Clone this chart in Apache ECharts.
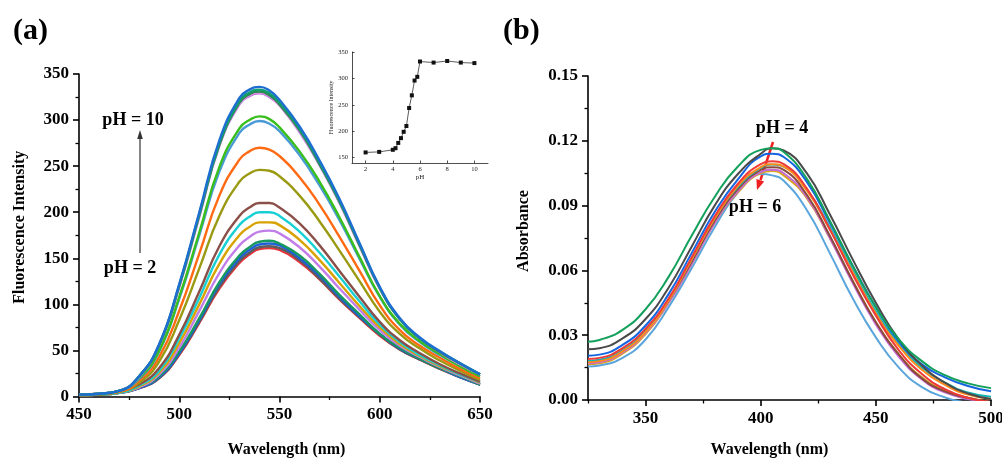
<!DOCTYPE html>
<html>
<head>
<meta charset="utf-8">
<title>pH dependent fluorescence and absorbance</title>
<script src="https://cdn.jsdelivr.net/npm/echarts@6.0.0/dist/echarts.min.js"></script>
<style>
    html, body { margin: 0; padding: 0; background: #fff; }
    #chart { width: 1002px; height: 459px; }
</style>
</head>
<body>
<div id="chart"></div>
<script>
/**
 * (a) fluorescence spectra pH 2 -> 10, with inset of peak intensity vs pH
 * (b) absorbance spectra pH 4 -> 6
 */

// ---- (a) emission spectra, wavelength (nm) ----
var emWave = [450, 460, 470, 480, 490, 500, 510, 520, 530, 535, 540, 545, 550, 560, 570, 580, 590, 600, 610, 620, 630, 640, 650];

var em161 = [1, 2, 4, 9, 20, 45, 80, 117, 145, 154, 160, 161, 159, 146, 127, 105, 85, 66, 51, 40, 30, 21, 13];
var em162 = [1, 2, 4, 9, 20, 46, 81, 119, 147, 156, 162, 163, 161, 148, 128, 106, 86, 67, 51, 40, 30, 21, 13];
var em165 = [1, 2, 4, 9, 21, 47, 83, 122, 150, 159, 165, 166, 164, 150, 131, 108, 87, 68, 52, 41, 31, 21, 13];
var em168 = [1, 2, 4, 10, 22, 49, 85, 124, 153, 162, 168, 169, 166, 153, 133, 110, 89, 68, 53, 41, 31, 22, 13];
var em179 = [1, 2, 4, 10, 24, 53, 93, 134, 164, 173, 179, 180, 177, 162, 141, 117, 94, 72, 55, 43, 32, 23, 14];
var em189 = [1, 2, 4, 11, 26, 58, 100, 144, 175, 184, 189, 189, 186, 170, 148, 123, 98, 75, 57, 44, 33, 24, 15];
var em200 = [1, 2, 4, 12, 28, 63, 107, 154, 186, 195, 200, 200, 196, 179, 156, 130, 103, 78, 59, 45, 34, 24, 16];
var em210 = [1, 2, 5, 13, 31, 67, 114, 163, 196, 205, 210, 210, 205, 188, 164, 136, 108, 81, 61, 47, 35, 25, 16];
var em246 = [1.5, 2.5, 5, 15, 38, 83, 139, 196, 233, 242, 246, 245, 239, 218, 190, 158, 125, 92, 68, 52, 39, 28, 18];
var em270 = [2, 3, 5, 17, 43, 93, 155, 218, 257, 266, 270, 268, 261, 238, 208, 173, 136, 99, 72, 55, 42, 30, 20];
var em299 = [2, 3, 6, 19, 49, 106, 175, 244, 286, 295, 299, 296, 288, 262, 229, 191, 149, 108, 78, 59, 45, 33, 22];
var em304 = [2, 3, 6, 20, 50, 108, 178, 249, 291, 300, 304, 301, 292, 266, 233, 194, 151, 109, 79, 60, 46, 33, 22];
var em329 = [2, 3, 6, 21, 56, 119, 195, 272, 317, 326, 329, 325, 316, 287, 251, 210, 163, 117, 84, 63, 48, 35, 24];
var em330 = [2, 3, 6, 22, 56, 119, 196, 273, 318, 327, 330, 326, 316, 288, 252, 210, 163, 117, 84, 63, 48, 35, 24];
var em331 = [2, 3, 6, 22, 56, 120, 197, 273, 319, 328, 331, 327, 317, 289, 252, 211, 164, 118, 84, 63, 48, 36, 24];
var em333 = [2, 3, 6, 22, 56, 121, 198, 275, 321, 330, 333, 329, 319, 291, 254, 212, 165, 118, 84, 63, 49, 36, 24];
var em336 = [2, 3, 6, 22, 57, 122, 200, 278, 324, 333, 336, 332, 322, 293, 256, 214, 166, 119, 85, 64, 49, 36, 24];

// ---- inset: intensity at peak vs pH ----
var insetPH = [2, 3, 4, 4.2, 4.4, 4.6, 4.8, 5, 5.2, 5.4, 5.6, 5.8, 6, 7, 8, 9, 10];
var insetFI = [160, 161, 165, 168, 178, 187, 199, 210, 244, 268, 296, 303, 332, 330, 333, 330, 329];

// ---- (b) absorbance spectra ----
var absWave = [325, 330, 340, 350, 360, 370, 380, 390, 400, 405, 410, 420, 430, 440, 450, 460, 470, 480, 490, 500];

var abLightBlue = [0.0155, 0.016, 0.0195, 0.028, 0.043, 0.061, 0.080, 0.096, 0.1046, 0.1040, 0.1015, 0.088, 0.068, 0.047, 0.029, 0.015, 0.006, 0.0012, -0.0015, -0.004];
var abGold = [0.0165, 0.017, 0.0215, 0.0305, 0.045, 0.063, 0.082, 0.096, 0.1050, 0.1060, 0.1040, 0.0935, 0.075, 0.055, 0.036, 0.021, 0.0105, 0.0045, 0.001, -0.001];
var abPurple = [0.017, 0.0175, 0.022, 0.031, 0.045, 0.063, 0.082, 0.0965, 0.1055, 0.1066, 0.1050, 0.094, 0.075, 0.054, 0.035, 0.020, 0.0095, 0.0035, 0.0005, -0.001];
var abBrown = [0.018, 0.0185, 0.023, 0.032, 0.046, 0.064, 0.083, 0.0975, 0.1065, 0.1078, 0.1065, 0.095, 0.076, 0.055, 0.036, 0.021, 0.010, 0.004, 0.001, -0.001];
var abCyan = [0.018, 0.0185, 0.023, 0.032, 0.046, 0.065, 0.084, 0.0985, 0.1075, 0.1090, 0.1080, 0.0975, 0.080, 0.060, 0.041, 0.026, 0.015, 0.008, 0.0035, 0.0015];
var abOrange = [0.0175, 0.018, 0.0225, 0.0315, 0.046, 0.065, 0.084, 0.099, 0.1078, 0.1092, 0.1080, 0.097, 0.079, 0.059, 0.040, 0.025, 0.014, 0.007, 0.0025, 0.0005];
var abRed = [0.019, 0.0195, 0.024, 0.033, 0.047, 0.066, 0.085, 0.100, 0.1092, 0.1105, 0.1092, 0.098, 0.079, 0.058, 0.039, 0.023, 0.012, 0.005, 0.001, -0.001];
var abBlue = [0.0205, 0.021, 0.0255, 0.0345, 0.049, 0.068, 0.087, 0.102, 0.1128, 0.1140, 0.1125, 0.101, 0.082, 0.062, 0.043, 0.027, 0.0165, 0.0105, 0.0065, 0.004];
var abGray = [0.0235, 0.024, 0.0285, 0.0375, 0.052, 0.071, 0.090, 0.1045, 0.1140, 0.1165, 0.1155, 0.105, 0.086, 0.065, 0.045, 0.028, 0.016, 0.008, 0.003, 0.0005];
var abGreen = [0.027, 0.0278, 0.0325, 0.042, 0.057, 0.076, 0.094, 0.108, 0.1158, 0.1165, 0.1148, 0.1025, 0.083, 0.062, 0.043, 0.028, 0.018, 0.0115, 0.0077, 0.0055];

// tick labels
var insetXTicks = [2, 4, 6, 8, 10];
var insetYTicks = [150, 200, 250, 300, 350];
var absXTicks = [350, 400, 450, 500];
var absXMinor = [325, 375, 425, 475];

var emCurves = [
    { data: em161, color: '#e8343c' },
    { data: em162, color: '#5c5c5c' },
    { data: em165, color: '#1f5fd8' },
    { data: em168, color: '#17985e' },
    { data: em179, color: '#c27ee8' },
    { data: em189, color: '#d8a300' },
    { data: em200, color: '#16d0d4' },
    { data: em210, color: '#8a4f48' },
    { data: em246, color: '#9a9a12' },
    { data: em270, color: '#ff6a12' },
    { data: em299, color: '#4a9ad6' },
    { data: em304, color: '#38bf1c' },
    { data: em329, color: '#b878e2' },
    { data: em330, color: '#e08ade' },
    { data: em331, color: '#2a8a52' },
    { data: em333, color: '#10a070' },
    { data: em336, color: '#1e6ed2' }
];

var absCurves = [
    { data: abLightBlue, color: '#5aa5dc' },
    { data: abGold, color: '#daa41c' },
    { data: abPurple, color: '#c46ad6' },
    { data: abBrown, color: '#8a4a3c' },
    { data: abCyan, color: '#12b6b6' },
    { data: abOrange, color: '#ff8a1a' },
    { data: abRed, color: '#f03a3a' },
    { data: abBlue, color: '#1565e0' },
    { data: abGray, color: '#4a4a4a' },
    { data: abGreen, color: '#12a05a' }
];

var SERIF = "'Liberation Serif', 'Times New Roman', serif";

function pairs(xs, ys) {
    return xs.map(function(x, i) { return [x, ys[i]]; });
}

function mainAxisStyle() {
    return {
        axisLine: { show: true, lineStyle: { color: '#000', width: 1.6 } },
        axisTick: { show: true, inside: false, length: 6, lineStyle: { color: '#000', width: 1.6 } },
        axisLabel: { color: '#000', fontFamily: SERIF, fontWeight: 'bold', fontSize: 17, margin: 10 },
        splitLine: { show: false },
        nameTextStyle: { color: '#000', fontFamily: SERIF, fontWeight: 'bold', fontSize: 16 }
    };
}

function extend(base, extra) {
    for (var k in extra) {
        if (base[k] && typeof base[k] === 'object' && !Array.isArray(base[k])) {
            extend(base[k], extra[k]);
        } else {
            base[k] = extra[k];
        }
    }
    return base;
}

var series = [];

emCurves.forEach(function(c) {
    series.push({
        type: 'line',
        xAxisIndex: 0,
        yAxisIndex: 0,
        data: pairs(emWave, c.data),
        smooth: 0.5,
        showSymbol: false,
        silent: true,
        lineStyle: { color: c.color, width: 2.4 }
    });
});

series.push({
    type: 'line',
    xAxisIndex: 1,
    yAxisIndex: 1,
    data: pairs(insetPH, insetFI),
    symbol: 'rect',
    symbolSize: 4,
    silent: true,
    itemStyle: { color: '#111' },
    lineStyle: { color: '#333', width: 0.8 }
});

absCurves.forEach(function(c) {
    series.push({
        type: 'line',
        xAxisIndex: 2,
        yAxisIndex: 2,
        data: pairs(absWave, c.data),
        smooth: 0.5,
        showSymbol: false,
        silent: true,
        lineStyle: { color: c.color, width: 2 }
    });
});

var labelFont = 'bold 18px ' + SERIF;

var option = {
    backgroundColor: '#fff',
    animation: false,
    grid: [
        { left: 79, top: 74, width: 401, height: 322.5, outerBoundsMode: 'none' },
        { left: 352, top: 52, width: 136, height: 111, outerBoundsMode: 'none' },
        { left: 588, top: 76, width: 403, height: 324, outerBoundsMode: 'none' }
    ],
    xAxis: [
        extend(mainAxisStyle(), {
            gridIndex: 0, type: 'value', min: 450, max: 650, interval: 50,
            minorTick: { show: true, splitNumber: 2, length: 3.5, lineStyle: { color: '#000', width: 1.3 } },
            name: 'Wavelength (nm)', nameLocation: 'middle', nameGap: 45,
            nameTextStyle: { padding: [0, 0, 0, 14] }
        }),
        {
            gridIndex: 1, type: 'value', min: 1, max: 11,
            axisLine: { lineStyle: { color: '#222', width: 0.8 } },
            axisTick: { inside: true, length: 2.5, customValues: insetXTicks, lineStyle: { color: '#222', width: 0.8 } },
            axisLabel: { customValues: insetXTicks, color: '#222', fontFamily: SERIF, fontSize: 6.5, margin: 3 },
            splitLine: { show: false },
            name: 'pH', nameLocation: 'middle', nameGap: 10,
            nameTextStyle: { color: '#222', fontFamily: SERIF, fontSize: 7 }
        },
        extend(mainAxisStyle(), {
            gridIndex: 2, type: 'value', min: 325, max: 500, interval: 25, position: 'bottom',
            axisTick: { customValues: absXTicks },
            axisLabel: { customValues: absXTicks },
            name: 'Wavelength (nm)', nameLocation: 'middle', nameGap: 42,
            nameTextStyle: { padding: [0, 40, 0, 0] }
        }),
        {
            gridIndex: 2, type: 'value', min: 325, max: 500, interval: 25, position: 'bottom',
            axisLine: { show: false },
            axisTick: { show: true, length: 3.5, customValues: absXMinor, lineStyle: { color: '#000', width: 1.3 } },
            axisLabel: { show: false },
            splitLine: { show: false }
        }
    ],
    yAxis: [
        extend(mainAxisStyle(), {
            gridIndex: 0, type: 'value', min: 0, max: 350, interval: 50,
            minorTick: { show: true, splitNumber: 2, length: 3.5, lineStyle: { color: '#000', width: 1.3 } },
            name: 'Fluorescence Intensity', nameLocation: 'middle', nameGap: 51,
            nameTextStyle: { padding: [0, 0, 0, 16] }
        }),
        {
            gridIndex: 1, type: 'value', min: 140, max: 350,
            axisLine: { show: true, lineStyle: { color: '#222', width: 0.8 } },
            axisTick: { show: true, inside: true, length: 2.5, customValues: insetYTicks, lineStyle: { color: '#222', width: 0.8 } },
            axisLabel: { customValues: insetYTicks, color: '#222', fontFamily: SERIF, fontSize: 6.5, margin: 4 },
            splitLine: { show: false },
            name: 'Fluorescence Intensity', nameLocation: 'middle', nameGap: 16,
            nameTextStyle: { color: '#222', fontFamily: SERIF, fontSize: 6 }
        },
        extend(mainAxisStyle(), {
            gridIndex: 2, type: 'value', min: 0, max: 0.15, interval: 0.03,
            minorTick: { show: true, splitNumber: 2, length: 3.5, lineStyle: { color: '#000', width: 1.3 } },
            axisLabel: { formatter: function(v) { return v.toFixed(2); } },
            name: 'Absorbance', nameLocation: 'middle', nameGap: 56,
            nameTextStyle: { padding: [0, 0, 0, 14] }
        })
    ],
    series: series,
    graphic: [
        { type: 'text', left: 13, top: 16, style: { text: '(a)', font: 'bold 30px ' + SERIF, fill: '#000' } },
        { type: 'text', left: 503, top: 16, style: { text: '(b)', font: 'bold 30px ' + SERIF, fill: '#000' } },

        { type: 'text', x: 133, y: 120, style: { text: 'pH = 10', font: labelFont, fill: '#000', align: 'center', verticalAlign: 'middle' } },
        { type: 'text', x: 130, y: 268, style: { text: 'pH = 2', font: labelFont, fill: '#000', align: 'center', verticalAlign: 'middle' } },
        { type: 'line', shape: { x1: 140, y1: 253, x2: 140, y2: 137 }, style: { stroke: '#333', lineWidth: 1.2 } },
        { type: 'polygon', shape: { points: [[140, 130], [137.2, 139], [142.8, 139]] }, style: { fill: '#333' } },

        { type: 'text', x: 782, y: 128, style: { text: 'pH = 4', font: labelFont, fill: '#000', align: 'center', verticalAlign: 'middle' } },
        { type: 'text', x: 755, y: 207, style: { text: 'pH = 6', font: labelFont, fill: '#000', align: 'center', verticalAlign: 'middle' } },
        { type: 'line', shape: { x1: 773, y1: 142, x2: 760.5, y2: 180 }, style: { stroke: '#f02020', lineWidth: 2.5 } },
        { type: 'polygon', shape: { points: [[757, 190], [764.2, 181.5], [756.4, 178.9]] }, style: { fill: '#f02020' } }
    ]
};

var chart = echarts.init(document.getElementById('chart'), null, { renderer: 'canvas' });
chart.setOption(option);
</script>
</body>
</html>
